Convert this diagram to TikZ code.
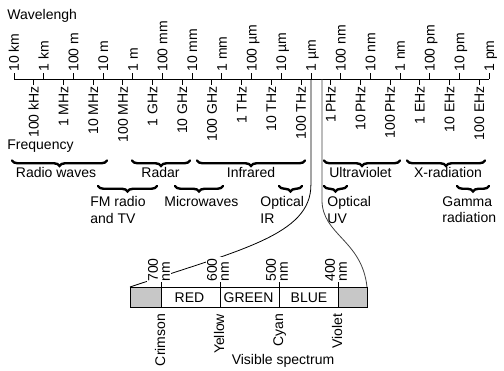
\documentclass[tikz,border=0pt]{standalone}
\usepackage{fontspec}
\setmainfont{Liberation Sans}
\usetikzlibrary{decorations.pathreplacing}
\begin{document}
\begin{tikzpicture}[x=1pt,y=-1pt,line width=0.8pt,
  every node/.style={font=\fontsize{14}{16.8}\selectfont},
  wl/.style={rotate=90,anchor=west,inner sep=0pt,text height=10pt,text depth=0pt},
  fq/.style={rotate=90,anchor=east,inner sep=0pt,text height=10pt,text depth=0pt},
  lbl/.style={inner sep=0pt,anchor=base},
  sub/.style={inner sep=0pt,anchor=north west,align=left},
  nml/.style={rotate=90,anchor=west,align=left,fill=white,inner sep=1.5pt,
    font=\fontsize{14}{12}\selectfont},
  brc/.style={decorate,decoration={brace,amplitude=5.5pt,mirror},line width=2.4pt,line cap=round},
  boxfill/.style={fill=black!22}]
\useasboundingbox (0,0) rectangle (504,370);

% titles
\node[anchor=base west,inner sep=0pt] (wlt) at (7,19.3) {Wavelengh};
\node[anchor=base west,inner sep=0pt] (fqt) at (7,149.3) {Frequency};

% wavelength scale
\foreach \t [count=\i from 0] in {10 km,1 km,100 m,10 m,1 m,100 mm,10 mm,1 mm,100 µm,10 µm,1 µm,100 nm,10 nm,1 nm,100 pm,10 pm,1 pm}{
  \coordinate (w\i) at ({14+29.69*\i},79);
  \draw (w\i) -- ++(0,-6);
  \node[wl] (wl\i) at ({14+29.69*\i},72) {\t};
}
\draw (w0) -- (w16);

% frequency scale
\foreach \t [count=\j] in {100 kHz,1 MHz,10 MHz,100 MHz,1 GHz,10 GHz,100 GHz,1 THz,10 THz,100 THz,1\,PHz,10\,PHz,100\,PHz,1 EHz,10 EHz,100 EHz}{
  \coordinate (f\j) at ({4+29.69*\j},79);
  \draw (f\j) -- ++(0,6);
  \node[fq] (fl\j) at ({4+29.69*\j},86) {\t};
}

% band braces, row 1
\draw[brc] (12,160.5) -- (107,160.5);
\draw[brc] (132,160.5) -- (190,160.5);
\draw[brc] (197,160.5) -- (305,160.5);
\draw[brc] (324,160.5) -- (400,160.5);
\draw[brc] (407,160.5) -- (485,160.5);
\node[lbl] (radio) at (56,177) {Radio waves};
\node[lbl] (radar) at (160.5,177) {Radar};
\node[lbl] (infra) at (251,177) {Infrared};
\node[lbl] (ultra) at (360.5,177) {Ultraviolet};
\node[lbl] (xrad) at (448,177) {X-radiation};

% band braces, row 2
\draw[brc] (98,186) -- (157,186);
\draw[brc] (175,186) -- (223,186);
\draw[brc] (279,186) -- (302,186);
\draw[brc] (324,186) -- (347,186);
\draw[brc] (457,186) -- (489,186);
\node[sub] (fm) at (90,196) {FM radio\\and TV};
\node[sub] (micro) at (164,196) {Microwaves};
\node[sub] (oir) at (260,196) {Optical\\IR};
\node[sub] (ouv) at (327,196) {Optical\\UV};
\node[sub] (gam) at (442,196) {Gamma\\radiation};

% zoom lines
\coordinate (boxTL) at (130,287);
\coordinate (boxTR) at (367,287);
\coordinate (zr) at (322,79);
\draw (w10) -- ++(0,106) .. controls +(0,50) and (240,250) .. (boxTL);
\draw[black!75] (zr) -- (322,200) .. controls (322,235) and (362,240) .. (boxTR);

% wavelength labels of the visible band
\node[nml] (n700) at (159,283.5) {700\\nm};
\node[nml] (n600) at (218,283.5) {600\\nm};
\node[nml] (n500) at (277,283.5) {500\\nm};
\node[nml] (n400) at (336,283.5) {400\\nm};

% visible spectrum bar
\fill[boxfill] (130,287) rectangle (161,307);
\fill[boxfill] (338,287) rectangle (367,307);
\draw (boxTL) rectangle (367,307);
\foreach \d in {161,220,279,338}{
  \draw (\d,282) -- (\d,307);
}
\node[lbl] (red) at (189.5,302.5) {RED};
\node[lbl] (green) at (248.5,302.5) {GREEN};
\node[lbl] (blue) at (309,302.5) {BLUE};

\node[fq] (crim) at (160,313.5) {Crimson};
\node[fq] (yell) at (219,313.5) {Yellow};
\node[fq] (cyan) at (278,313.5) {Cyan};
\node[fq] (viol) at (337,313.5) {Violet};
\node[lbl] (vis) at (283,364) {Visible spectrum};
\end{tikzpicture}
\end{document}
